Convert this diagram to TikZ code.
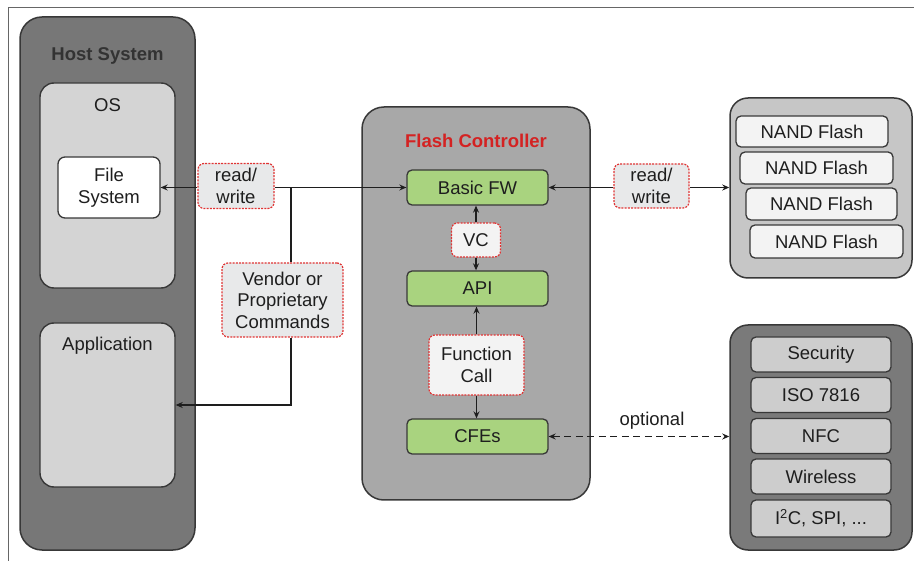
\documentclass[tikz,border=0pt]{standalone}
\usepackage{fontspec}
\setmainfont{Liberation Sans}
\usetikzlibrary{arrows.meta}

\definecolor{hostfill}{HTML}{777777}
\definecolor{boxline}{HTML}{383838}
\definecolor{lightfill}{HTML}{D4D4D4}
\definecolor{ctrlfill}{HTML}{A8A8A8}
\definecolor{fwgreen}{HTML}{A9D37F}
\definecolor{nandgroup}{HTML}{C6C6C6}
\definecolor{nandbox}{HTML}{F3F3F3}
\definecolor{perfill}{HTML}{7A7A7A}
\definecolor{perbox}{HTML}{CDCDCD}
\definecolor{tagfill}{HTML}{E8E9EA}
\definecolor{tagline}{HTML}{E03434}
\definecolor{titlered}{HTML}{D42222}
\definecolor{ink}{HTML}{1E1E1E}

\begin{document}
\begin{tikzpicture}[x=1pt,y=-1pt,
  font=\fontsize{18.5}{21.5}\selectfont, text=ink,
  group/.style={draw=boxline, line width=1.5pt, rounded corners=22pt, inner sep=0pt},
  panel/.style={draw=boxline, line width=1.4pt, fill=lightfill, rounded corners=14pt, inner sep=0pt},
  cell/.style={draw=boxline, line width=1.3pt, rounded corners=5pt, inner sep=0pt, align=center},
  fwbox/.style={cell, fill=fwgreen, minimum width=141pt, minimum height=35pt},
  tag/.style={draw=tagline, line width=1.2pt, dash pattern=on 2pt off 1.2pt, fill=tagfill,
    rounded corners=6pt, inner sep=0pt, align=center},
  title/.style={font=\fontsize{18.5}{21.5}\selectfont\bfseries},
  wire/.style={draw=ink, line width=1.4pt},
  arr/.style={wire, -{Stealth[length=7pt,width=6pt]}},
  darr/.style={wire, {Stealth[length=7pt,width=6pt]}-{Stealth[length=7pt,width=6pt]}}
]
\useasboundingbox (0,0) rectangle (914,561);

% outer frame (top and left edges)
\draw[draw=black!60, line width=0.8pt] (8,561) -- (8,7) -- (914,7);

% ---------------- host system ----------------
\node[group, fill=hostfill, minimum width=175pt, minimum height=533pt] (host) at (107.5,283.5) {};
\node[title, text=black!80] (hosttitle) at (107.5,56) {Host System};
\node[panel, minimum width=135pt, minimum height=205pt] (os) at (107.5,185.5) {};
\node (ostitle) at (107.5,105) {OS};
\node[cell, fill=white, rounded corners=7pt, minimum width=102pt, minimum height=61pt] (fs) at (109,187.5) {File\\System};
\node[panel, minimum width=135pt, minimum height=164pt] (app) at (107.5,405) {};
\node (apptitle) at (107.5,346) {Application};

% ---------------- flash controller ----------------
\node[group, fill=ctrlfill, minimum width=228pt, minimum height=393pt] (ctrl) at (476,303.5) {};
\node[title, text=titlered] (ctrltitle) at (476,141) {Flash Controller};
\node[fwbox] (bfw) at (477.5,187.5) {Basic FW};
\node[fwbox] (api) at (477.5,288.5) {API};
\node[fwbox] (cfe) at (477.5,436.5) {CFEs};
\node[tag, fill=nandbox, minimum width=49pt, minimum height=34pt] (vc) at (476,240) {VC};
\node[tag, fill=nandbox, minimum width=95pt, minimum height=60pt] (fc) at (476.5,365) {Function\\Call};

% ---------------- NAND array ----------------
\node[group, fill=nandgroup, rounded corners=18pt, minimum width=182pt, minimum height=180pt] (nand) at (821,188) {};
\node[cell, fill=nandbox, minimum width=152pt, minimum height=31pt] (n1) at (812,131.5) {NAND Flash};
\node[cell, fill=nandbox, minimum width=153pt, minimum height=32pt] (n2) at (816.5,168) {NAND Flash};
\node[cell, fill=nandbox, minimum width=151pt, minimum height=32pt] (n3) at (821.5,204) {NAND Flash};
\node[cell, fill=nandbox, minimum width=153pt, minimum height=33pt] (n4) at (826.5,241.5) {NAND Flash};

% ---------------- peripherals ----------------
\node[group, fill=perfill, rounded corners=18pt, minimum width=182pt, minimum height=225pt] (per) at (821,437.5) {};
\node[cell, fill=perbox, minimum width=140pt, minimum height=35pt] (sec) at (821,354.5) {Security};
\node[cell, fill=perbox, minimum width=140pt, minimum height=35pt] (iso) at (821,395) {ISO 7816};
\node[cell, fill=perbox, minimum width=140pt, minimum height=35pt] (nfc) at (821,436) {NFC};
\node[cell, fill=perbox, minimum width=140pt, minimum height=35pt] (wl) at (821,476.5) {Wireless};
\node[cell, fill=perbox, minimum width=140pt, minimum height=37pt] (bus) at (821,518.5) {I\textsuperscript{2}C, SPI, ...};

% ---------------- interface tags ----------------
\node[tag, minimum width=76pt, minimum height=45pt] (rwL) at (236,186) {read/\\write};
\node[tag, minimum width=121pt, minimum height=74pt] (vend) at (282.5,300) {Vendor or\\Proprietary\\Commands};
\node[tag, minimum width=75pt, minimum height=44pt] (rwR) at (651.5,186) {read/\\write};
\node (opt) at (652,421) {optional};

% ---------------- connectors ----------------
\coordinate (j) at (291,187.5);
\draw[arr] (rwL.west |- fs.east) -- (fs.east);
\draw[arr] (rwL.east |- bfw.west) -- (bfw.west);
\draw[wire] (j) -- (j |- vend.north);
\draw[arr] (j |- vend.south) -- (j |- app.east) -- (app.east);

\draw[arr] (rwR.west |- bfw.east) -- (bfw.east);
\draw[arr] (rwR.east |- bfw.east) -- (nand.west |- bfw.east);

\draw[arr] (vc.north) -- (vc.north |- bfw.south);
\draw[arr] (vc.south) -- (vc.south |- api.north);
\draw[arr] (fc.north) -- (fc.north |- api.south);
\draw[arr] (fc.south) -- (fc.south |- cfe.north);

\draw[darr, dash pattern=on 7pt off 4.5pt] (cfe.east) -- (per.west |- cfe.east);
\end{tikzpicture}
\end{document}
